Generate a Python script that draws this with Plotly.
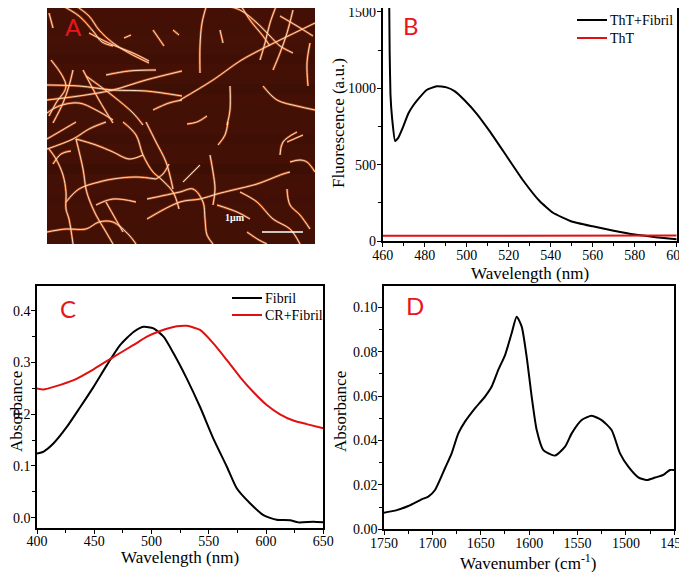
import plotly.graph_objects as go

# the page sits 8px in from the window edge, so the figure is 8px smaller
W, H = 679, 564
OFF = 8

# ---- panel B: ThT fluorescence ----
tht_fibril_wl = [463.1, 463.3, 463.7, 464.5, 465.9, 467.4, 469.8, 472.2, 474.6, 477.7, 480.9,
                 485.7, 490.4, 494.4, 499.1, 504.7, 511.0, 518.9, 526.8, 534.8, 541.1, 550.0,
                 560.0, 570.0, 580.0, 590.0, 600.0]
tht_fibril_f = [1560, 1250, 960, 800, 655, 675, 750, 835, 889, 942, 989,
                1014, 1006, 980, 920, 835, 718, 558, 398, 260, 185, 128,
                96, 67, 42, 25, 12]
tht_wl = [460, 480, 500, 520, 540, 560, 580, 600]
tht_f = [34, 34, 35, 35, 35, 35, 36, 36]

# ---- panel C: Congo red absorbance ----
fib_wl = [400, 405.8, 414.5, 426.2, 437.8, 449.4, 461.0, 472.7, 484.3, 493.0, 501.7, 510.5,
          519.2, 530.8, 542.4, 554.0, 565.7, 574.4, 586.0, 597.7, 609.3, 621.0, 628.2, 641.3, 650]
fib_abs = [0.124, 0.128, 0.144, 0.176, 0.214, 0.253, 0.295, 0.334, 0.359, 0.369, 0.366, 0.350,
           0.318, 0.269, 0.214, 0.153, 0.099, 0.057, 0.028, 0.005, -0.004, -0.005, -0.009, -0.008, -0.009]
cr_wl = [400, 405.8, 414.5, 432.0, 449.4, 466.9, 484.3, 496.0, 507.6, 522.1, 530.8, 542.4,
         554.0, 565.7, 577.3, 588.9, 600.6, 612.2, 623.8, 635.5, 650]
cr_abs = [0.250, 0.248, 0.253, 0.266, 0.287, 0.311, 0.334, 0.350, 0.361, 0.370, 0.371, 0.363,
          0.337, 0.305, 0.272, 0.243, 0.218, 0.200, 0.188, 0.181, 0.173]

# ---- panel D: FTIR ----
wn = [1750, 1738.6, 1724.9, 1711.1, 1704.2, 1697.3, 1687.0, 1680.1, 1673.2, 1666.3, 1656.0,
      1645.6, 1638.7, 1631.9, 1624.9, 1618.1, 1612.9, 1607.7, 1602.6, 1597.4, 1592.2, 1585.4,
      1573.3, 1562.9, 1556.0, 1545.7, 1535.4, 1525.1, 1514.8, 1506.1, 1497.5, 1487.2, 1478.6,
      1469.9, 1461.3, 1454.5, 1450]
ir_abs = [0.0075, 0.0084, 0.0105, 0.0135, 0.0147, 0.0177, 0.0275, 0.0342, 0.0432, 0.0485, 0.0545,
          0.0598, 0.0643, 0.0718, 0.0785, 0.0883, 0.0958, 0.0913, 0.0778, 0.0598, 0.0447, 0.0357,
          0.0332, 0.0372, 0.0432, 0.0492, 0.0511, 0.0492, 0.0447, 0.0342, 0.0282, 0.0234, 0.0222,
          0.0233, 0.0245, 0.0267, 0.0267]

# ---- panel A: AFM image, fibril traces in image pixels (268 x 240) ----
band_levels = [0.5, 0.52, 0.49, 0.53, 0.5, 0.45, 0.52, 0.5, 0.44, 0.52, 0.5, 0.49,
               0.52, 0.45, 0.5, 0.52, 0.42, 0.5, 0.52, 0.48, 0.5, 0.52, 0.5, 0.49]
fibrils = [
    [(12, 0), (32, 12), (46, 27), (55, 38), (66, 42)],
    [(26, 0), (42, 12), (52, 26), (66, 39), (82, 49), (102, 59)],
    [(42, 29), (66, 41), (86, 49), (102, 57)],
    [(4, 56), (19, 82), (9, 99), (2, 112)],
    [(26, 66), (22, 82), (16, 99), (6, 119)],
    [(0, 81), (32, 82), (66, 86), (99, 87), (135, 92)],
    [(0, 96), (32, 92), (66, 86), (99, 76), (135, 67)],
    [(59, 71), (82, 67), (109, 66)],
    [(36, 66), (52, 96), (66, 119)],
    [(39, 72), (66, 92), (86, 109), (96, 121)],
    [(0, 109), (12, 102), (32, 99), (49, 106), (66, 116)],
    [(106, 106), (122, 99), (135, 96)],
    [(106, 26), (117, 42)],
    [(126, 26), (132, 31)],
    [(77, 34), (84, 31)],
    [(2, 9), (6, 24)],
    [(133, 96), (166, 76), (193, 57), (213, 46), (233, 36), (268, 19)],
    [(160, 0), (155, 19), (153, 42), (153, 69)],
    [(170, 0), (193, 6), (210, 19), (223, 32), (233, 42), (246, 49)],
    [(193, 0), (203, 16), (216, 32), (223, 42)],
    [(230, 0), (223, 19), (218, 39), (213, 56)],
    [(246, 6), (240, 29), (233, 49), (226, 66)],
    [(233, 12), (250, 22), (266, 32)],
    [(263, 39), (260, 59), (261, 82)],
    [(216, 82), (230, 96), (250, 102), (268, 106)],
    [(183, 82), (183, 106), (180, 121)],
    [(173, 26), (176, 39)],
    [(0, 145), (26, 135), (42, 125), (59, 118)],
    [(2, 145), (9, 155), (16, 171), (19, 188), (19, 205), (22, 215), (26, 240)],
    [(29, 135), (36, 165), (39, 185), (42, 195), (49, 211), (59, 228), (66, 240)],
    [(29, 135), (49, 141), (66, 148), (82, 155), (96, 151)],
    [(19, 198), (32, 185), (52, 178), (66, 175), (89, 173), (109, 175)],
    [(76, 118), (89, 131), (96, 151), (106, 168), (114, 175), (126, 188), (132, 205)],
    [(99, 118), (109, 138), (119, 158), (126, 185)],
    [(0, 228), (19, 225), (39, 225), (52, 218), (66, 218), (82, 231), (89, 240)],
    [(49, 201), (66, 195), (89, 198)],
    [(0, 135), (12, 128), (29, 118)],
    [(59, 198), (68, 214), (76, 228)],
    [(109, 175), (116, 170), (122, 160)],
    [(6, 160), (14, 150), (24, 147)],
    [(181, 118), (178, 131), (171, 141)],
    [(100, 215), (133, 198), (153, 195), (170, 190), (186, 186), (210, 180), (236, 170), (243, 168)],
    [(163, 151), (166, 168), (168, 185), (166, 201)],
    [(100, 195), (133, 188), (146, 185), (156, 198), (158, 215), (160, 231), (166, 240)],
    [(136, 178), (146, 168), (153, 161)],
    [(193, 188), (210, 198), (226, 215), (243, 225), (253, 240)],
    [(170, 201), (190, 208), (203, 215)],
    [(233, 151), (236, 138), (250, 128)],
    [(240, 138), (256, 131)],
    [(243, 158), (253, 156), (260, 158), (268, 168)],
    [(240, 185), (243, 201), (253, 211), (263, 225)],
    [(200, 228), (212, 236), (220, 240)],
    [(140, 120), (150, 118), (160, 112)],
]
img_w, img_h = 268, 240

SERIF = "Liberation Serif"


def px(x):
    return (x - OFF) / W


def py(y):
    return 1 - (y - OFF) / H


fig = go.Figure()

# AFM background with scan-line bands
band_edges = [i * img_h / len(band_levels) for i in range(len(band_levels) + 1)]
fig.add_trace(go.Heatmap(
    z=[[v] for v in band_levels], x=[0, img_w], y=band_edges,
    colorscale=[[0, "#1e0500"], [1, "#4a1206"]], zmin=0, zmax=0.6,
    showscale=False, hoverinfo="skip", xaxis="x", yaxis="y"))

fx, fy = [], []
for f in fibrils:
    fx += [p[0] for p in f] + [None]
    fy += [p[1] for p in f] + [None]
fig.add_trace(go.Scatter(x=fx, y=fy, mode="lines", line=dict(color="rgba(205,85,25,0.8)", width=2.4, shape="spline"),
                         showlegend=False, hoverinfo="skip", xaxis="x", yaxis="y"))
fig.add_trace(go.Scatter(x=fx, y=fy, mode="lines", line=dict(color="#ffecd6", width=0.9, shape="spline"),
                         showlegend=False, hoverinfo="skip", xaxis="x", yaxis="y"))
# scale bar
fig.add_trace(go.Scatter(x=[215, 256], y=[228, 228], mode="lines", line=dict(color="white", width=1.6),
                         showlegend=False, hoverinfo="skip", xaxis="x", yaxis="y"))

# B
fig.add_trace(go.Scatter(x=tht_fibril_wl, y=tht_fibril_f, mode="lines", name="ThT+Fibril",
                         line=dict(color="black", width=2, shape="spline", smoothing=0.4),
                         xaxis="x2", yaxis="y2"))
fig.add_trace(go.Scatter(x=tht_wl, y=tht_f, mode="lines", name="ThT",
                         line=dict(color="#e01010", width=2), xaxis="x2", yaxis="y2"))
# C
fig.add_trace(go.Scatter(x=fib_wl, y=fib_abs, mode="lines", name="Fibril",
                         line=dict(color="black", width=2, shape="spline", smoothing=0.6),
                         xaxis="x3", yaxis="y3"))
fig.add_trace(go.Scatter(x=cr_wl, y=cr_abs, mode="lines", name="CR+Fibril",
                         line=dict(color="#e01010", width=2, shape="spline", smoothing=0.6),
                         xaxis="x3", yaxis="y3"))
# D
fig.add_trace(go.Scatter(x=wn, y=ir_abs, mode="lines", name="FTIR",
                         line=dict(color="black", width=2, shape="spline", smoothing=0.6),
                         xaxis="x4", yaxis="y4"))

tickfont = dict(family=SERIF, size=14, color="black")


def ax(domain, rng, dtick, minor, fmt=None, standoff=-2):
    d = dict(domain=domain, range=rng, dtick=dtick, showgrid=False, zeroline=False, automargin=False,
             showline=True, linecolor="black", linewidth=1.6, mirror=True,
             ticks="outside", ticklen=4, tickwidth=1.4, tickcolor="black", tickfont=tickfont,
             ticklabelstandoff=standoff, ticklabeloverflow="allow",
             minor=dict(ticks="outside", ticklen=3, tickwidth=1.2, tickcolor="black", dtick=minor))
    if fmt:
        d["tickformat"] = fmt
    return d


hidden = dict(showgrid=False, zeroline=False, showticklabels=False, showline=False, ticks="", automargin=False)

fig.update_layout(
    width=W, height=H, margin=dict(l=0, r=0, t=0, b=0, autoexpand=False),
    paper_bgcolor="white", plot_bgcolor="rgba(0,0,0,0)", showlegend=False,
    xaxis=dict(domain=[px(47), px(315)], range=[0, img_w], **hidden),
    yaxis=dict(domain=[py(244), py(8)], range=[img_h, 4], **hidden),
    xaxis2=dict(anchor="y2", tick0=460, **ax([px(382.7), px(676.7)], [460, 600], 20, 10, standoff=-4)),
    yaxis2=dict(anchor="x2", **ax([py(241), py(8)], [0, 1526], 500, 250)),
    xaxis3=dict(anchor="y3", **ax([px(37), px(323.3)], [400, 650], 50, 25, standoff=-4)),
    yaxis3=dict(anchor="x3", **ax([py(527.7), py(286)], [-0.0193, 0.448], 0.1, 0.05, ".1f")),
    xaxis4=dict(anchor="y4", **ax([px(384), px(674.3)], [1750, 1450], 50, 25, standoff=-4)),
    yaxis4=dict(anchor="x4", **ax([py(529.3), py(286)], [0, 0.1096], 0.02, 0.01, ".2f")),
)

# legend keys, drawn by hand so the rows sit as tight as in the original
leg_font = dict(family=SERIF, size=14, color="black")
keys = [
    ("ThT+Fibril", "black", 577, 607, 20),
    ("ThT", "#e01010", 577, 607, 38),
    ("Fibril", "black", 232, 262, 298),
    ("CR+Fibril", "#e01010", 232, 262, 315),
]
for text, color, x0, x1, y in keys:
    fig.add_shape(type="line", xref="paper", yref="paper", x0=px(x0), x1=px(x1), y0=py(y), y1=py(y),
                  line=dict(color=color, width=2))
    fig.add_annotation(text=text, x=px(x1 + 1), y=py(y), xref="paper", yref="paper", showarrow=False,
                       font=leg_font, xanchor="left", yanchor="middle")

title_font = dict(family=SERIF, size=17, color="black")
label_font = dict(family="Lato", size=24, color="#e8161c")
notes = [
    ("Wavelength (nm)", 530, 273, 0, title_font),
    ("Fluorescence (a.u.)", 338, 123, -90, title_font),
    ("Wavelength (nm)", 180, 557, 0, title_font),
    ("Absorbance", 16, 412, -90, title_font),
    ("Wavenumber (cm<sup>-1</sup>)", 528, 562, 0, title_font),
    ("Absorbance", 340, 412, -90, title_font),
    ("A", 73, 27, 0, label_font),
    ("B", 411, 26, 0, label_font),
    ("C", 68, 308, 0, label_font),
    ("D", 415, 305, 0, label_font),
    ("<b>1μm</b>", 235, 217, 0, dict(family=SERIF, size=10, color="white")),
]
for text, x, y, ang, font in notes:
    fig.add_annotation(text=text, x=px(x), y=py(y), xref="paper", yref="paper", showarrow=False,
                       textangle=ang, font=font, xanchor="center", yanchor="middle")

fig.write_html("out.html")
